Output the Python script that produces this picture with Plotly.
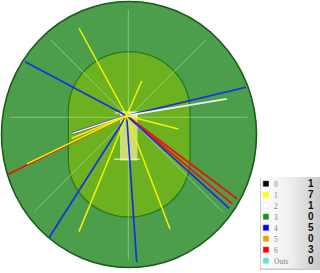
import math
import plotly.graph_objects as go

# ---- data: shots (angle clockwise from straight up, degrees; distance in field units) ----
ones_angle = [331.4, 23.4, 104.5, 159.1, 202.4, 247.7, 244.2]
ones_dist = [99.6, 37.8, 53.3, 121.6, 125.4, 59.5, 110.8]
twos_angle = [80.5]
twos_dist = [101.4]
fours_angle = [298.0, 76.6, 212.5, 176.1, 132.1]
fours_dist = [115.1, 122.6, 144.1, 146.9, 138.2]
sixes_angle = [243.7, 127.0, 129.9]
sixes_dist = [132.1, 138.5, 137.6]
dots_angle = [251.9]
dots_dist = [56.8]

legend_labels = ["0", "1", "2", "3", "4", "5", "6", "Outs"]
legend_counts = [1, 7, 1, 0, 5, 0, 3, 0]
legend_colors = ["#000000", "#ffff00", "#ffffff", "#1e8c1e", "#0000ff", "#ff9900", "#ff0000", "#66dddd"]

# ---- geometry (styling) ----
W, H = 320, 273
CX, CY, RX, RY = 129.0, 134.5, 127.5, 133.0
BX, BY = 126.7, 115.7          # batsman
RCX, RCY = 128.3, 117.3        # centre of faint radial guides


def shot_xy(angles, dists):
    xs, ys = [], []
    for a, d in zip(angles, dists):
        r = math.radians(a)
        xs += [BX, BX + d * math.sin(r), None]
        ys += [BY, BY - d * math.cos(r), None]
    return xs, ys


def boundary_dist(px, py, a):
    r = math.radians(a)
    dx, dy = math.sin(r), -math.cos(r)
    ux, uy = (px - CX) / RX, (py - CY) / RY
    vx, vy = dx / RX, dy / RY
    A = vx * vx + vy * vy
    B = 2 * (ux * vx + uy * vy)
    C = ux * ux + uy * uy - 1
    return (-B + math.sqrt(B * B - 4 * A * C)) / (2 * A)


fig = go.Figure()

# faint radial guides
gx, gy = [], []
for a in range(0, 360, 45):
    L = boundary_dist(RCX, RCY, a) - 8
    r = math.radians(a)
    gx += [RCX, RCX + L * math.sin(r), None]
    gy += [RCY, RCY - L * math.cos(r), None]
fig.add_trace(go.Scatter(x=gx, y=gy, mode="lines",
                         line=dict(color="rgba(255,255,255,0.35)", width=1),
                         hoverinfo="skip", showlegend=False))

# dot ball (outlined)
x, y = shot_xy(dots_angle, dots_dist)
fig.add_trace(go.Scatter(x=x, y=y, mode="lines", line=dict(color="#666677", width=3.2),
                         hoverinfo="skip", showlegend=False))
fig.add_trace(go.Scatter(x=x, y=y, mode="lines", line=dict(color="#f4f4f4", width=1.3),
                         hoverinfo="skip", showlegend=False))

for ang, dist, col, w in [
    (sixes_angle, sixes_dist, "#ee1111", 1.7),
    (fours_angle, fours_dist, "#1a2ee6", 1.7),
    (twos_angle, twos_dist, "#eeeeee", 1.7),
    (ones_angle, ones_dist, "#f2f200", 1.5),
]:
    x, y = shot_xy(ang, dist)
    fig.add_trace(go.Scatter(x=x, y=y, mode="lines", line=dict(color=col, width=w),
                             hoverinfo="skip", showlegend=False))

shapes = []
# outer field
shapes.append(dict(type="circle", layer="below", x0=CX - RX, x1=CX + RX, y0=CY - RY, y1=CY + RY,
                   fillcolor="#4c9e4a", line=dict(color="#1d5a1d", width=1.6)))


# inner circle (stadium shape)
def stadium_path(xl, xr, ytop_c, ybot_c, ry_top, ry_bot, n=40):
    cx = (xl + xr) / 2
    rx = (xr - xl) / 2
    pts = []
    for i in range(n + 1):
        t = math.pi + math.pi * i / n
        pts.append((cx + rx * math.cos(t), ytop_c + ry_top * math.sin(t)))
    for i in range(n + 1):
        t = math.pi * i / n
        pts.append((cx + rx * math.cos(t), ybot_c + ry_bot * math.sin(t)))
    return "M " + " L ".join(f"{px:.2f},{py:.2f}" for px, py in pts) + " Z"


shapes.append(dict(type="path", layer="below", path=stadium_path(68.3, 190.0, 111.0, 160.0, 59.3, 57.0),
                   fillcolor="#6cb11f", line=dict(color="#2a7a1c", width=1.3)))
# pitch
shapes.append(dict(type="rect", layer="below", x0=120, x1=137.5, y0=111.5, y1=160.5,
                   fillcolor="rgba(236,236,150,0.75)", line=dict(width=0)))
shapes.append(dict(type="rect", layer="below", x0=120, x1=137.5, y0=111.5, y1=118,
                   fillcolor="rgba(250,250,175,0.8)", line=dict(width=0)))
shapes.append(dict(type="line", layer="below", x0=115, x1=139, y0=113, y1=113,
                   line=dict(color="rgba(245,245,200,0.9)", width=1.2)))
shapes.append(dict(type="line", layer="below", x0=114, x1=140, y0=159.2, y1=159.2,
                   line=dict(color="rgba(245,245,200,0.9)", width=1.2)))

# legend box (shadow + gradient)
LX0, LX1, LY0, LY1 = 261.0, 320.0, 177.0, 268.5
fig.add_trace(go.Scatter(x=[LX0 - 1, LX1, LX1, LX0 - 1, LX0 - 1], y=[LY0 + 1, LY0 + 1, LY1 + 1.5, LY1 + 1.5, LY0 + 1],
                         mode="lines", fill="toself", fillcolor="rgba(150,150,150,0.5)",
                         line=dict(width=0), hoverinfo="skip", showlegend=False))
fig.add_trace(go.Scatter(x=[LX0, LX1, LX1, LX0, LX0], y=[LY0, LY0, LY1, LY1, LY0],
                         mode="lines", fill="toself",
                         fillgradient=dict(type="horizontal",
                                           colorscale=[[0, "#ffffff"], [0.5, "#eeeeee"], [1, "#c9c9c9"]]),
                         line=dict(width=0), hoverinfo="skip", showlegend=False))

annotations = []
row0, step = 183.7, 11.0
for i, (lab, cnt, col) in enumerate(zip(legend_labels, legend_counts, legend_colors)):
    yc = row0 + i * step
    shapes.append(dict(type="rect", layer="above", x0=263.3, x1=268.5, y0=yc - 2.6, y1=yc + 2.6,
                       fillcolor=col, line=dict(color="#dddddd" if col == "#ffffff" else col, width=0.5)))
    annotations.append(dict(x=271.5, y=yc + 0.8, text=lab, showarrow=False, xanchor="left", yanchor="middle",
                            font=dict(family="Liberation Serif", size=7.5, color="#808080")))
    annotations.append(dict(x=316, y=yc, text=f"<b>{cnt}</b>", showarrow=False, xanchor="right",
                            yanchor="middle", font=dict(family="Liberation Sans", size=10, color="#111111")))

fig.update_layout(
    width=W, height=H, margin=dict(l=0, r=0, t=0, b=0),
    paper_bgcolor="white", plot_bgcolor="white",
    xaxis=dict(range=[0, W], visible=False, fixedrange=True),
    yaxis=dict(range=[H, 0], visible=False, fixedrange=True),
    shapes=shapes, annotations=annotations, showlegend=False,
)

fig.write_html("out.html", config={"displayModeBar": False})
